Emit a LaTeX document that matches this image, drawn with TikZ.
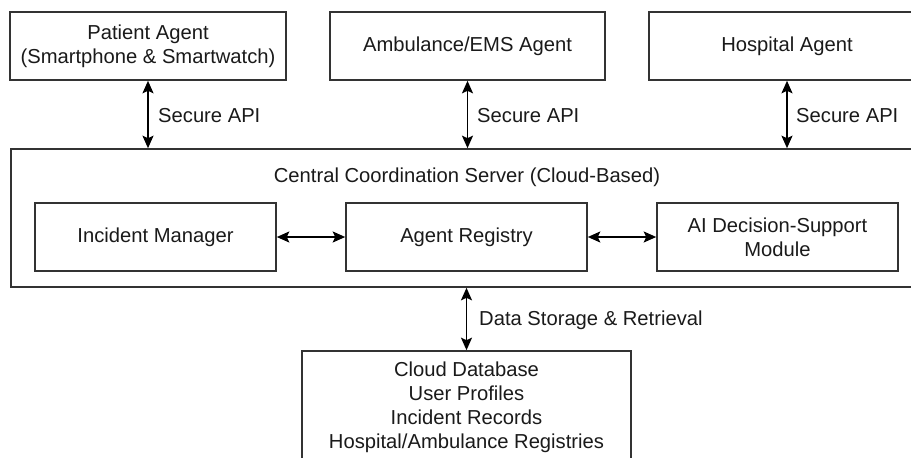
\documentclass[tikz,border=0pt]{standalone}
\usepackage{fontspec}
\setmainfont{Liberation Sans}
\usetikzlibrary{arrows.meta}
\definecolor{edge}{HTML}{333333}
\definecolor{ink}{HTML}{1A1A1A}
\begin{document}
\begin{tikzpicture}[x=1pt,y=-1pt,
  box/.style={draw=edge,line width=1.6pt,fill=white,align=center,inner sep=0pt,
    font=\fontsize{20.2}{24}\selectfont,text=ink},
  lbl/.style={anchor=west,inner sep=0pt,font=\fontsize{20.2}{24}\selectfont,text=ink},
  conn/.style={{Stealth[length=12.5pt,width=11pt,inset=2.5pt]}-{Stealth[length=12.5pt,width=11pt,inset=2.5pt]},line width=1.6pt,draw=black}]
\useasboundingbox (0,0) rectangle (911,458);
\clip (0,0) rectangle (911,458);
% top agents
\node[box,minimum width=276pt,minimum height=68pt] (patient) at (148,46)
  {Patient Agent\\(Smartphone \& Smartwatch)};
\node[box,minimum width=275pt,minimum height=68pt] (ambulance) at (467.5,46)
  {Ambulance/EMS Agent};
\node[box,minimum width=276pt,minimum height=68pt] (hospital) at (787,46)
  {Hospital Agent};
% server
\node[box,minimum width=912pt,minimum height=138pt] (server) at (467,218) {};
\node[lbl,anchor=center] (servertitle) at (467,177) {Central Coordination Server (Cloud-Based)};
\node[box,minimum width=241pt,minimum height=68pt] (incident) at (155.5,237) {Incident Manager};
\node[box,minimum width=241pt,minimum height=68pt] (registry) at (466.5,237) {Agent Registry};
\node[box,minimum width=241pt,minimum height=68pt] (ai) at (777.5,237) {AI Decision-Support\\Module};
% database
\node[box,minimum width=329pt,minimum height=113pt] (db) at (466.5,407.5)
  {Cloud Database\\User Profiles\\Incident Records\\Hospital/Ambulance Registries};
% connectors
\draw[conn] (patient.south) -- (patient.south |- server.north);
\draw[conn] (ambulance.south) -- (ambulance.south |- server.north);
\draw[conn] (hospital.south) -- (hospital.south |- server.north);
\draw[conn] (incident.east) -- (registry.west);
\draw[conn] (registry.east) -- (ai.west);
\draw[conn] (db.north |- server.south) -- (db.north);
% labels
\node[lbl] (l1) at (158,116) {Secure API};
\node[lbl] (l2) at (477,116) {Secure API};
\node[lbl] (l3) at (796,116) {Secure API};
\node[lbl] (l4) at (479,320) {Data Storage \& Retrieval};
\end{tikzpicture}
\end{document}
